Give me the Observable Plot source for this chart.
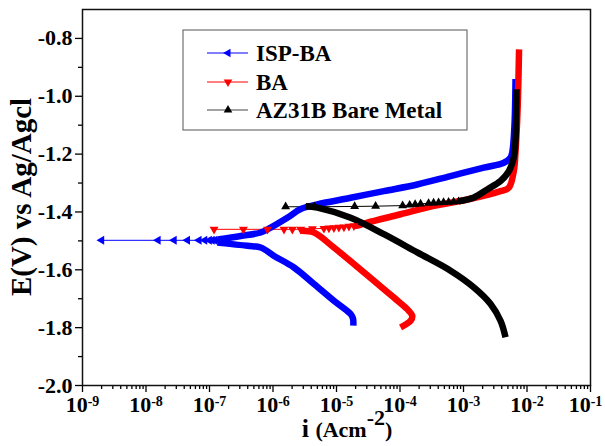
<!DOCTYPE html>
<html><head><meta charset="utf-8">
<script src="https://cdn.jsdelivr.net/npm/d3@7"></script>
<script src="https://cdn.jsdelivr.net/npm/@observablehq/plot@0.6"></script>
<style>
body{margin:0;background:#fff;}
#chart svg text{font-family:"Liberation Serif","Times New Roman",serif;font-weight:bold;}
</style></head><body><div id="chart"></div>
<script>
// ---- tick values ----
const xMajorTicks = [1e-9,1e-8,1e-7,1e-6,1e-5,1e-4,1e-3,1e-2,1e-1];
const xMinorMultipliers = [2,3,4,5,6,7,8,9];
const yMajorTicks = [-2.0,-1.8,-1.6,-1.4,-1.2,-1.0,-0.8];
const yMinorTicks = [-1.9,-1.7,-1.5,-1.3,-1.1,-0.9];

// ---- series ----
const seriesNames = ["ISP-BA","BA","AZ31B Bare Metal"];
const seriesColors = ["#0000ff","#ff0000","#000000"];
const seriesMarkerRotate = [-90,180,0];

// ISP-BA
const ispCathodicI = [1.84e-5,1.82e-5,1.67e-5,9.1e-6,4.42e-6,2.14e-6,1.04e-6,6.4e-7,3.96e-7,1.33e-7];
const ispCathodicE = [-1.793,-1.769,-1.753,-1.707,-1.649,-1.592,-1.552,-1.523,-1.517,-1.506];
const ispSparseI = [2.0e-9,1.55e-8,2.77e-8,4.49e-8,6.84e-8,8.4e-8,9.9e-8,1.10e-7,1.21e-7,1.35e-7];
const ispSparseE = [-1.498,-1.498,-1.498,-1.498,-1.498,-1.498,-1.498,-1.498,-1.498,-1.498];
const ispAnodicI = [1.35e-7,3.10e-7,6.4e-7,9.2e-7,1.68e-6,2.73e-6,4.99e-6,1.67e-5,5.58e-5,1.87e-4,6.25e-4,2.09e-3,4.32e-3,5.51e-3,5.9e-3,6.35e-3,6.6e-3];
const ispAnodicE = [-1.495,-1.483,-1.471,-1.454,-1.42,-1.39,-1.374,-1.351,-1.328,-1.305,-1.276,-1.247,-1.230,-1.212,-1.19,-1.10,-0.94];

// BA
const baCathodicI = [1.02e-4,1.47e-4,1.56e-4,1.30e-4,8.0e-5,3.88e-5,1.88e-5,9.1e-6,4.42e-6,2.73e-6];
const baCathodicE = [-1.799,-1.776,-1.759,-1.736,-1.696,-1.638,-1.58,-1.523,-1.471,-1.465];
const baSparseI = [1.18e-7,3.42e-7,8.2e-7,1.49e-6,2.02e-6,2.73e-6,4.17e-6,6.34e-6,7.6e-6,9.1e-6,1.09e-5,1.31e-5,1.57e-5,1.88e-5];
const baSparseE = [-1.460,-1.460,-1.460,-1.460,-1.460,-1.460,-1.458,-1.457,-1.456,-1.455,-1.453,-1.452,-1.450,-1.448];
const baAnodicI = [1.88e-5,2.15e-5,3.05e-5,1.02e-4,3.41e-4,1.15e-3,3.83e-3,5.18e-3,6.19e-3,6.6e-3,7.1e-3,7.5e-3];
const baAnodicE = [-1.448,-1.447,-1.437,-1.408,-1.379,-1.357,-1.328,-1.316,-1.259,-1.19,-1.05,-0.838];

// AZ31B Bare Metal
const azCathodicI = [4.59e-3,3.83e-3,2.67e-3,1.46e-3,6.25e-4,1.87e-4,5.58e-5,1.67e-5,4.99e-6,3.27e-6];
const azCathodicE = [-1.833,-1.776,-1.718,-1.661,-1.603,-1.54,-1.477,-1.42,-1.385,-1.38];
const azSparseI = [1.58e-6,4.5e-6,1.93e-5,4.13e-5,1.10e-4,1.42e-4,1.73e-4,2.11e-4,2.82e-4,3.38e-4,4.05e-4,4.85e-4,5.82e-4,6.98e-4,8.36e-4];
const azSparseE = [-1.382,-1.382,-1.381,-1.380,-1.378,-1.376,-1.374,-1.372,-1.370,-1.369,-1.368,-1.367,-1.366,-1.365,-1.364];
const azAnodicI = [8.36e-4,9.0e-4,1.46e-3,2.37e-3,3.83e-3,5.18e-3,6.19e-3,6.6e-3,6.84e-3];
const azAnodicE = [-1.364,-1.362,-1.35,-1.322,-1.293,-1.259,-1.212,-1.15,-0.976];

// ---- build tables ----
function rows(I, E, s, seg) { return I.map((v, k) => ({i: v, E: E[k], s, seg: s + seg})); }
const dense = [
  ...rows(ispCathodicI, ispCathodicE, 0, "c"), ...rows(ispAnodicI, ispAnodicE, 0, "a"),
  ...rows(baCathodicI, baCathodicE, 1, "c"), ...rows(baAnodicI, baAnodicE, 1, "a"),
  ...rows(azCathodicI, azCathodicE, 2, "c"), ...rows(azAnodicI, azAnodicE, 2, "a")
];
const sparse = [
  ...rows(ispSparseI, ispSparseE, 0, "s"),
  ...rows(baSparseI, baSparseE, 1, "s"),
  ...rows(azSparseI, azSparseE, 2, "s")
];
const xMinorTicks = xMajorTicks.slice(0, -1).flatMap(d => xMinorMultipliers.map(m => m * d));

const W = 605, H = 446;
const plot = Plot.plot({
  width: W, height: H,
  marginLeft: 82, marginRight: 15, marginTop: 9, marginBottom: 61,
  style: {fontSize: "22px", background: "#fff", overflow: "visible"},
  x: {type: "log", domain: [1e-9, 1e-1]},
  y: {domain: [-2.0, -0.7]},
  marks: [
    Plot.line(sparse, {x: "i", y: "E", z: "seg", stroke: d => seriesColors[d.s], strokeWidth: 1}),
    Plot.line(dense, {x: "i", y: "E", z: "seg", stroke: d => seriesColors[d.s], strokeWidth: 6.5, strokeLinejoin: "round", strokeLinecap: "butt", curve: "catmull-rom"}),
    Plot.dot(sparse, {x: "i", y: "E", symbol: "triangle", fill: d => seriesColors[d.s], stroke: "none", r: 3.3, rotate: d => seriesMarkerRotate[d.s]}),
    Plot.axisY(yMajorTicks, {tickSize: 7, tickPadding: 3, tickFormat: d => d.toFixed(1), label: null, strokeWidth: 1.3}),
    Plot.axisY(yMinorTicks, {tickSize: 4, tickFormat: () => "", label: null, strokeWidth: 1.3}),
    Plot.axisX(xMajorTicks, {tickSize: 7, tickPadding: 4, tickFormat: d => String(Math.round(Math.log10(d))), label: null, strokeWidth: 1.3}),
    Plot.axisX(xMinorTicks, {tickSize: 4, tickFormat: () => "", label: null, strokeWidth: 1.3}),
    Plot.frame({stroke: "#111", strokeWidth: 1.5})
  ]
});

const svg = d3.select(plot);
// superscript exponents on x tick labels
const xLabels = svg.selectAll('g[aria-label="x-axis tick label"] text').filter(function() { return d3.select(this).text() !== ""; });
const nLabels = xLabels.size();
xLabels.each(function(_, k) {
  const t = d3.select(this);
  const exp = t.text();
  t.text(null).style("font-size", "22px");
  if (k === nLabels - 1) t.attr("dx", -5);
  t.append("tspan").text("10");
  t.append("tspan").attr("dy", "-0.42em").style("font-size", "14px").text(exp);
});

// axis titles
const xt = svg.append("text").attr("x", 347).attr("y", 437).attr("text-anchor", "middle");
xt.append("tspan").style("font-size", "26px").text("i ");
xt.append("tspan").style("font-size", "22px").text("(Acm");
xt.append("tspan").attr("dy", "-0.55em").style("font-size", "22px").text("-2");
xt.append("tspan").attr("dy", "0.55em").style("font-size", "22px").text(")");
svg.append("text").attr("transform", "translate(31,197) rotate(-90)").attr("text-anchor", "middle")
  .style("font-size", "29px").text("E(V) vs Ag/Agcl");

// legend
const lg = svg.append("g");
lg.append("rect").attr("x", 183).attr("y", 30).attr("width", 284).attr("height", 100)
  .attr("fill", "#fff").attr("stroke", "#555").attr("stroke-width", 1);
const rowsY = [53, 82, 110];
seriesNames.forEach((name, k) => {
  const y = rowsY[k];
  lg.append("line").attr("x1", 207).attr("x2", 248).attr("y1", y).attr("y2", y)
    .attr("stroke", k === 2 ? "#444" : seriesColors[k]).attr("stroke-width", 1);
  lg.append("path").attr("d", d3.symbol(d3.symbolTriangle, 32)())
    .attr("transform", `translate(228,${y}) rotate(${seriesMarkerRotate[k]})`).attr("fill", seriesColors[k]);
  lg.append("text").attr("x", 256).attr("y", y + 8).attr("text-anchor", "start").style("font-size", "23px").text(name);
});

document.getElementById("chart").appendChild(plot);
</script></body></html>
